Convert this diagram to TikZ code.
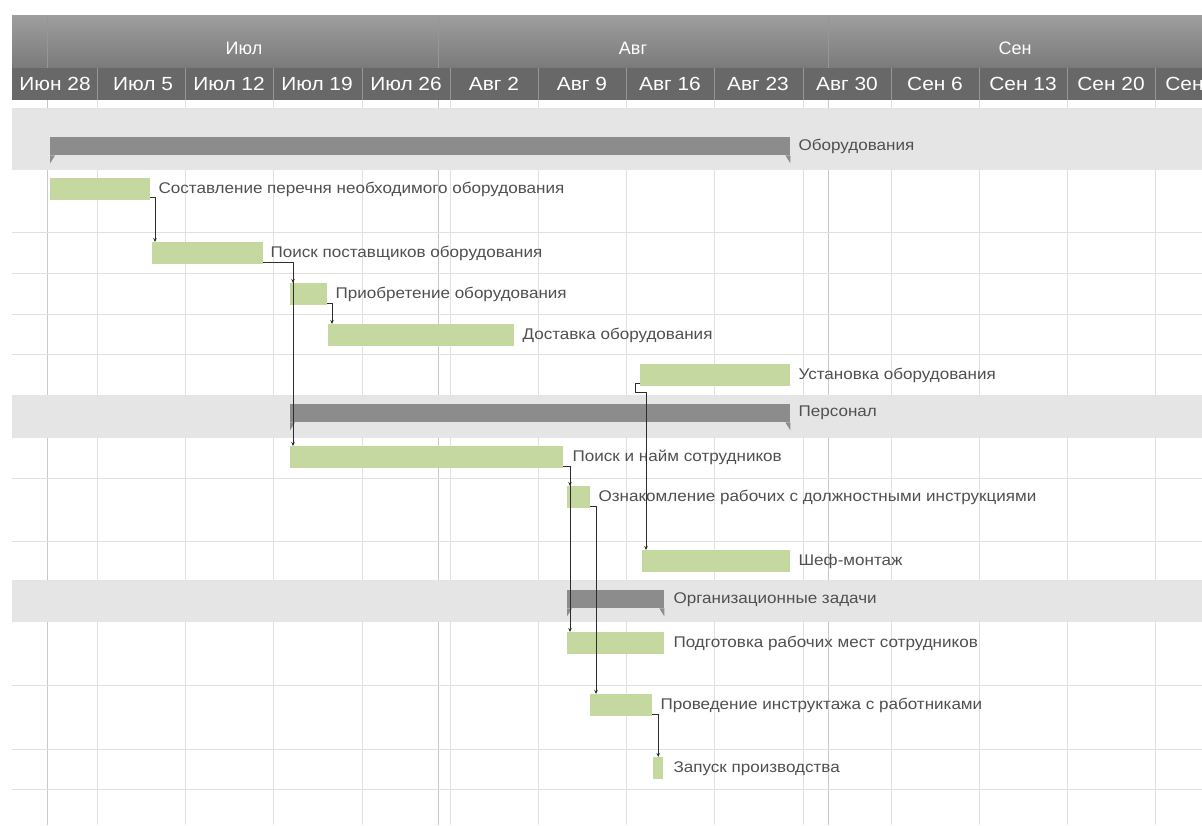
\documentclass[tikz,border=0pt]{standalone}
\usepackage{fontspec}
\setmainfont{Liberation Sans}
\newfontfamily\widefont[FakeStretch=1.1]{Liberation Sans}
\usetikzlibrary{arrows.meta, positioning}
\definecolor{barcolor}{RGB}{196,216,160}
\definecolor{sumcolor}{RGB}{140,140,140}
\definecolor{bandcolor}{RGB}{229,229,229}
\definecolor{gridcolor}{RGB}{224,224,224}
\definecolor{monthline}{RGB}{200,200,200}
\definecolor{hdrtop}{RGB}{158,158,158}
\definecolor{hdrbot}{RGB}{122,122,122}
\definecolor{weekrow}{RGB}{104,104,104}
\definecolor{hdrsep}{RGB}{150,150,150}
\definecolor{labelcolor}{RGB}{80,80,80}
\definecolor{depcolor}{RGB}{45,45,45}

\begin{document}
\begin{tikzpicture}[x=1pt, y=-1pt,
    >={Stealth[length=4pt, width=3.5pt]},
    task/.style={fill=barcolor, minimum height=22pt, inner sep=0pt, anchor=north west},
    summ/.style={fill=sumcolor, minimum height=18pt, inner sep=0pt, anchor=north west},
    lbl/.style={font=\widefont\fontsize{15.5}{15.5}\selectfont, text=labelcolor, inner sep=0pt},
    week/.style={font=\widefont\fontsize{19}{19}\selectfont, text=white, inner sep=0pt},
    month/.style={font=\fontsize{18}{18}\selectfont, text=white, inner sep=0pt},
    dep/.style={->, draw=depcolor, line width=0.9pt},
]
    \clip (0,0) rectangle (1202,825);
    \fill[white] (0,0) rectangle (1202,825);

    % header
    \fill[top color=hdrtop, bottom color=hdrbot] (12,15) rectangle (1202,68);
    \fill[weekrow] (12,68) rectangle (1202,100);
    \foreach \x in {47,438,828}
        \draw[hdrsep, line width=0.6pt] (\x,15) -- (\x,68);
    \foreach \x in {97,185,273,362,450,538,626,714,803,891,979,1067,1155}
        \draw[hdrsep, line width=0.8pt] (\x,68) -- (\x,100);
    \node[month] (m1) at (244,48) {Июл};
    \node[month] (m2) at (633,48) {Авг};
    \node[month] (m3) at (1015,48) {Сен};
    \node[week] (w0) at (55,84) {Июн 28};
    \node[week] (w1) at (143,84) {Июл 5};
    \node[week] (w2) at (229,84) {Июл 12};
    \node[week] (w3) at (317,84) {Июл 19};
    \node[week] (w4) at (406,84) {Июл 26};
    \node[week] (w5) at (494,84) {Авг 2};
    \node[week] (w6) at (582,84) {Авг 9};
    \node[week] (w7) at (670,84) {Авг 16};
    \node[week] (w8) at (758,84) {Авг 23};
    \node[week] (w9) at (847,84) {Авг 30};
    \node[week] (w10) at (935,84) {Сен 6};
    \node[week] (w11) at (1023,84) {Сен 13};
    \node[week] (w12) at (1111,84) {Сен 20};
    \node[week] (w13) at (1199,84) {Сен 27};

    % grid
    \foreach \x in {97,185,273,362,450,538,626,714,803,891,979,1067,1155}
        \draw[gridcolor, line width=0.8pt] (\x,100) -- (\x,825);
    \foreach \x in {47,438,828}
        \draw[monthline, line width=0.9pt] (\x,100) -- (\x,825);
    \foreach \y in {232,273,314,354,478,541,685,749,789}
        \draw[gridcolor, line width=1pt] (12,\y) -- (1202,\y);
    \fill[bandcolor] (12,108) rectangle (1202,170);
    \fill[bandcolor] (12,395) rectangle (1202,438);
    \fill[bandcolor] (12,580) rectangle (1202,622);

    % summary bars
    \node[summ, minimum width=740pt] (s1) at (50,137) {};
    \node[summ, minimum width=500pt] (s2) at (290,404) {};
    \node[summ, minimum width=97pt] (s3) at (567,590) {};
    \foreach \s in {s1,s2,s3} {
        \fill[sumcolor] (\s.south west) -- ++(0,8) -- ++(5,-8) -- cycle;
        \fill[sumcolor] (\s.south east) -- ++(0,8) -- ++(-5,-8) -- cycle;
    }
    \node[lbl, right=8pt of s1] (ls1) {Оборудования};
    \node[lbl, right=8pt of s2] (ls2) {Персонал};
    \node[lbl, right=9pt of s3] (ls3) {Организационные задачи};

    % tasks
    \node[task, minimum width=100pt] (t1) at (50,178) {};
    \node[task, minimum width=111pt] (t2) at (152,242) {};
    \node[task, minimum width=37pt] (t3) at (290,283) {};
    \node[task, minimum width=186pt] (t4) at (328,324) {};
    \node[task, minimum width=150pt] (t5) at (640,364) {};
    \node[task, minimum width=273pt] (t6) at (290,446) {};
    \node[task, minimum width=23pt] (t7) at (567,486) {};
    \node[task, minimum width=148pt] (t8) at (642,550) {};
    \node[task, minimum width=97pt] (t9) at (567,632) {};
    \node[task, minimum width=62pt] (t10) at (590,694) {};
    \node[task, minimum width=10pt] (t11) at (653,757) {};

    \node[lbl, right=8pt of t1] (l1) {Составление перечня необходимого оборудования};
    \node[lbl, right=7pt of t2] (l2) {Поиск поставщиков оборудования};
    \node[lbl, right=8pt of t3] (l3) {Приобретение оборудования};
    \node[lbl, right=8pt of t4] (l4) {Доставка оборудования};
    \node[lbl, right=8pt of t5] (l5) {Установка оборудования};
    \node[lbl, right=9pt of t6] (l6) {Поиск и найм сотрудников};
    \node[lbl, right=8pt of t7] (l7) {Ознакомление рабочих с должностными инструкциями};
    \node[lbl, right=8pt of t8] (l8) {Шеф-монтаж};
    \node[lbl, right=9pt of t9] (l9) {Подготовка рабочих мест сотрудников};
    \node[lbl, right=8pt of t10] (l10) {Проведение инструктажа с работниками};
    \node[lbl, right=10pt of t11] (l11) {Запуск производства};

    % dependencies
    \draw[dep] ([yshift=3pt]t1.south east) -| ([xshift=3pt]t2.north west);
    \draw[dep] ([yshift=2pt]t2.south east) -| ([xshift=3pt]t3.north west);
    \draw[dep] ([yshift=2pt]t2.south east) -| ([xshift=3pt]t6.north west);
    \draw[dep] ([yshift=2pt]t3.south east) -| ([xshift=4pt]t4.north west);
    \draw[dep] ([yshift=3pt]t5.south west) -- ++(-5,0) -- ++(0,9) -| ([xshift=4pt]t8.north west);
    \draw[dep] ([yshift=2pt]t6.south east) -| ([xshift=3pt]t7.north west);
    \draw[dep] ([yshift=2pt]t6.south east) -| ([xshift=3pt]t9.north west);
    \draw[dep] ([yshift=2pt]t7.south east) -| ([xshift=6pt]t10.north west);
    \draw[dep] ([yshift=2pt]t10.south east) -| (t11.north);
\end{tikzpicture}
\end{document}
